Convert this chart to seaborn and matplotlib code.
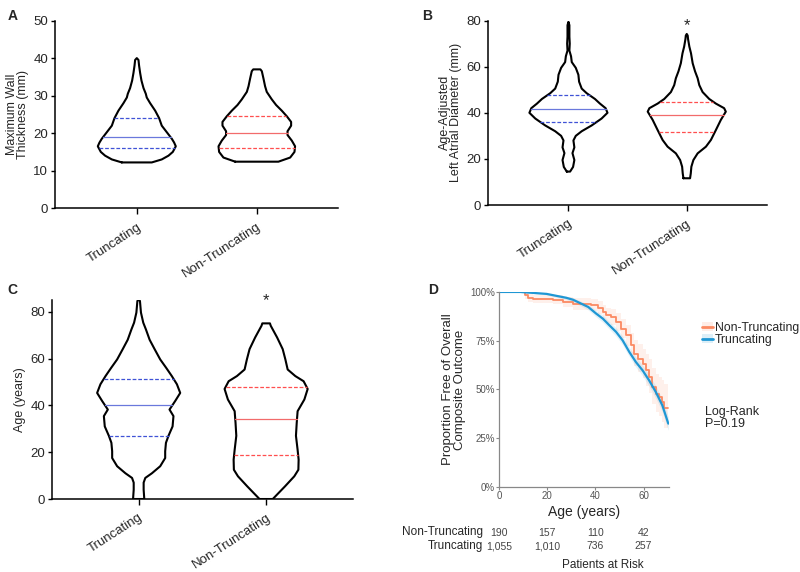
# violin panels A-C and Kaplan-Meier panel D, truncating vs non-truncating

import numpy as np
import pandas as pd
import matplotlib
matplotlib.use("Agg")
import matplotlib.pyplot as plt
from matplotlib.lines import Line2D
from matplotlib.patches import Patch
import seaborn as sns

groups = ["Truncating", "Non-Truncating"]

# violin outlines: y levels and half-widths (category units)
# panel A - maximum wall thickness (mm)
a_trunc_y = [12.2, 13, 14, 15, 16.5, 17.5, 18.5, 20, 22, 24, 26, 28, 29.5, 30.5, 32, 34, 36, 38, 39.5, 40]
a_trunc_w = [0.125, 0.208, 0.264, 0.30, 0.325, 0.311, 0.292, 0.256, 0.208, 0.186, 0.153, 0.111,
             0.083, 0.075, 0.056, 0.039, 0.028, 0.019, 0.014, 0.0]
a_non_y = [12.4, 13.5, 15, 16.5, 18, 19.5, 20.5, 22, 23, 24.5, 26, 27.5, 29, 31, 32.5, 34.5, 36.5, 37]
a_non_w = [0.18, 0.278, 0.314, 0.319, 0.292, 0.256, 0.256, 0.286, 0.286, 0.25, 0.208, 0.161,
           0.125, 0.083, 0.069, 0.056, 0.042, 0.03]
a_quart = {"Truncating": [16.0, 18.9, 24.0], "Non-Truncating": [16.0, 20.0, 24.7]}

# panel B - age-adjusted left atrial diameter (mm)
b_trunc_y = [14.5, 16.5, 19.5, 22.5, 25, 28, 30, 32, 34.5, 37.5, 40, 42, 44, 46, 48.5, 50.5, 53.5,
             56.5, 59.5, 62, 64.5, 67, 70, 73, 78, 79.5]
b_trunc_w = [0.014, 0.039, 0.05, 0.034, 0.05, 0.042, 0.062, 0.112, 0.196, 0.28, 0.33, 0.314, 0.266,
             0.224, 0.154, 0.112, 0.09, 0.084, 0.062, 0.028, 0.022, 0.008, 0.011, 0.008, 0.008, 0.0]
b_non_y = [11.6, 13.7, 16.6, 19.5, 22.4, 25.3, 28.2, 32.5, 36.9, 40.5, 42, 44, 46, 49, 52, 55, 58,
           61.5, 65.8, 68.7, 72, 73.5, 74.2]
b_non_w = [0.028, 0.034, 0.039, 0.056, 0.092, 0.162, 0.204, 0.246, 0.288, 0.33, 0.316, 0.246, 0.19,
           0.134, 0.106, 0.092, 0.07, 0.05, 0.036, 0.022, 0.011, 0.008, 0.0]
b_quart = {"Truncating": [36.2, 41.7, 47.6], "Non-Truncating": [31.5, 39.1, 44.8]}

# panel C - age (years)
c_trunc_y = [0, 4, 7, 9, 11, 14, 17.5, 20.4, 24, 27, 31, 35.4, 38.2, 41.8, 45.3, 49, 52.5, 56,
             59.6, 64, 68, 72.4, 75.3, 79.6, 84.6, 85]
c_trunc_w = [0.044, 0.039, 0.039, 0.052, 0.104, 0.169, 0.208, 0.208, 0.214, 0.234, 0.266, 0.273,
             0.242, 0.286, 0.326, 0.3, 0.26, 0.216, 0.169, 0.125, 0.086, 0.057, 0.036, 0.018, 0.01, 0.0]
c_non_y = [0, 5.4, 9.7, 12.5, 16.8, 21, 27, 32.5, 37.5, 42.5, 47, 50.3, 52.5, 55.3, 59.6, 64, 69, 74, 75]
c_non_w = [0.052, 0.148, 0.221, 0.253, 0.255, 0.247, 0.234, 0.24, 0.247, 0.3, 0.326, 0.294, 0.229,
           0.169, 0.151, 0.13, 0.086, 0.036, 0.03]
c_quart = {"Truncating": [27.1, 40.1, 51.2], "Non-Truncating": [19.0, 34.1, 47.9]}

# panel D - Kaplan-Meier (age in years, % free of outcome)
km_trunc_age = [0, 8.7, 14.2, 19.7, 23.8, 27.9, 30.7, 34.1, 37, 40.3, 43.1, 45.8, 48.6, 51.3,
                54.1, 56.8, 59.6, 62.3, 65.1, 67.8, 70.3]
km_trunc_pct = [100, 100, 99.5, 99, 98, 97, 96, 94, 92.3, 88.9, 86.3, 82.9, 79.5, 75.2, 69.2,
                64.1, 59.8, 54.7, 48.7, 41.9, 32.5]
km_trunc_lo = [100, 100, 99.2, 98.5, 97.3, 96.1, 94.9, 92.7, 90.8, 87.2, 84.4, 80.9, 77.3, 72.9,
               66.8, 61.5, 57.0, 51.7, 45.5, 38.5, 29.0]
km_trunc_hi = [100, 100, 99.8, 99.4, 98.6, 97.8, 97.0, 95.2, 93.7, 90.5, 88.1, 84.8, 81.6, 77.4,
               71.6, 66.6, 62.5, 57.6, 51.8, 45.2, 36.0]

km_non_age = [0, 10.7, 12.1, 14.2, 22.4, 26.6, 30.7, 38.3, 41, 43, 44.4, 46.5, 48.6, 50.6, 52.7,
              54.8, 56.1, 57.5, 59.6, 61, 62.3, 63.7, 65.1, 66.4, 67.8, 68.5, 70.3]
km_non_pct = [100, 98.3, 97.1, 96.6, 96.1, 94.9, 94, 93.5, 92, 89.7, 88, 87.2, 84.6, 81.2, 77.8,
              72.6, 68.4, 65.8, 63.2, 59.8, 56.4, 51.3, 47.9, 46.2, 43.6, 40.7, 40.7]
km_non_lo = [100, 96.5, 95, 94.3, 93.6, 92.1, 91, 90.3, 88.6, 86, 84, 83, 80, 76.2, 72.4, 66.6,
             62, 59, 56, 52, 48, 42.5, 38.5, 36.5, 33.5, 30, 30]
km_non_hi = [100, 99.5, 98.9, 98.6, 98.3, 97.5, 96.9, 96.5, 95.3, 93.3, 92, 91.4, 89.2, 86.3, 83.3,
             79, 75.5, 73.4, 71, 68, 65.5, 61, 58, 56.5, 55, 53, 53]

risk_years = [0, 20, 40, 60]
risk_non = ["190", "157", "110", "42"]
risk_trunc = ["1,055", "1,010", "736", "257"]

blue_dash = "#3f52d6"
blue_med = "#6a78dc"
red_dash = "#ff4f4f"
red_med = "#f26b6b"
km_orange = "#fb8a62"
km_blue = "#1f97d4"

sns.set_style("ticks")
plt.rcParams["font.family"] = ["Liberation Sans", "DejaVu Sans"]

fig = plt.figure(figsize=(8, 5.72), dpi=100)


def draw_violins(ax, profiles, quarts, ylim, yticks, ylabel):
    # draw each violin outline from its profile then the quartile lines
    for i, (ys, ws) in enumerate(profiles):
        ys = np.array(ys)
        ws = np.array(ws)
        ax.fill_betweenx(ys, i - ws, i + ws, facecolor="white", edgecolor="none", zorder=2)
        xs = np.concatenate([i - ws, (i + ws)[::-1], [i - ws[0]]])
        yy = np.concatenate([ys, ys[::-1], [ys[0]]])
        ax.plot(xs, yy, color="black", lw=1.5, zorder=3, solid_joinstyle="round")
        dash_c, med_c = (blue_dash, blue_med) if i == 0 else (red_dash, red_med)
        q1, med, q3 = quarts[groups[i]]
        for q, style, c in [(q1, (0, (3, 1.5)), dash_c), (med, "-", med_c), (q3, (0, (3, 1.5)), dash_c)]:
            hw = np.interp(q, ys, ws)
            ax.plot([i - hw, i + hw], [q, q], color=c, lw=0.9, linestyle=style, zorder=4)

    ax.set_xlim(-0.68, 1.68)
    ax.set_ylim(*ylim)
    ax.set_yticks(yticks)
    ax.set_xticks([0, 1])
    ax.set_xticklabels(groups, rotation=33, ha="right", rotation_mode="anchor", fontsize=9.5)
    ax.tick_params(axis="y", labelsize=9.5, length=3, width=1, color="black", pad=2)
    ax.tick_params(axis="x", length=4, width=1, color="black", pad=5)
    ax.set_ylabel(ylabel, fontsize=9, labelpad=3, linespacing=0.95)
    for s in ["left", "bottom"]:
        ax.spines[s].set_linewidth(1.1)
        ax.spines[s].set_color("black")
    sns.despine(ax=ax)


# panel A
axA = fig.add_axes([0.069, 0.636, 0.354, 0.328])
draw_violins(axA, [(a_trunc_y, a_trunc_w), (a_non_y, a_non_w)], a_quart,
             (0, 50), [0, 10, 20, 30, 40, 50], "Maximum Wall\nThickness (mm)")

# panel B
axB = fig.add_axes([0.61, 0.6416, 0.349, 0.3224])
draw_violins(axB, [(b_trunc_y, b_trunc_w), (b_non_y, b_non_w)], b_quart,
             (0, 80), [0, 20, 40, 60, 80], "Age-Adjusted\nLeft Atrial Diameter (mm)")
axB.text(1, 76, "*", ha="center", va="baseline", fontsize=12, clip_on=False)

# panel C
axC = fig.add_axes([0.065, 0.1276, 0.376, 0.348])
draw_violins(axC, [(c_trunc_y, c_trunc_w), (c_non_y, c_non_w)], c_quart,
             (0, 85), [0, 20, 40, 60, 80], "Age (years)")
axC.text(1, 83, "*", ha="center", va="baseline", fontsize=12, clip_on=False)

# panel D - survival curves
axD = fig.add_axes([0.624, 0.1486, 0.212, 0.341])
df_non = pd.DataFrame({"age": km_non_age, "pct": np.array(km_non_pct) / 100})
df_trunc = pd.DataFrame({"age": km_trunc_age, "pct": np.array(km_trunc_pct) / 100})

axD.fill_between(km_non_age, np.array(km_non_lo) / 100, np.array(km_non_hi) / 100,
                 step="post", color=km_orange, alpha=0.12, lw=0)
axD.fill_between(km_trunc_age, np.array(km_trunc_lo) / 100, np.array(km_trunc_hi) / 100,
                 color=km_blue, alpha=0.12, lw=0)
sns.lineplot(data=df_non, x="age", y="pct", ax=axD, color=km_orange, lw=1.3,
             drawstyle="steps-post", estimator=None)
sns.lineplot(data=df_trunc, x="age", y="pct", ax=axD, color=km_blue, lw=1.6, estimator=None)

axD.set_xlim(0, 70.5)
axD.set_ylim(0, 1)
axD.set_xticks([0, 20, 40, 60])
axD.set_yticks([0, 0.25, 0.5, 0.75, 1.0])
axD.set_yticklabels(["0%", "25%", "50%", "75%", "100%"])
axD.tick_params(labelsize=7, labelcolor="#555555", color="#888888", length=2, width=0.8, pad=1)
axD.set_xlabel("Age (years)", fontsize=10, labelpad=3)
axD.set_ylabel("Proportion Free of Overall\nComposite Outcome", fontsize=9.5, labelpad=3,
               linespacing=0.95)
for s in ["left", "bottom"]:
    axD.spines[s].set_color("#888888")
    axD.spines[s].set_linewidth(0.9)
sns.despine(ax=axD)

# legend with shaded band behind each line
h_non = (Patch(facecolor=km_orange, alpha=0.15, lw=0), Line2D([], [], color=km_orange, lw=2))
h_trunc = (Patch(facecolor=km_blue, alpha=0.15, lw=0), Line2D([], [], color=km_blue, lw=2))
fig.legend([h_non, h_trunc], ["Non-Truncating", "Truncating"], loc="upper left",
           bbox_to_anchor=(0.877, 0.437), frameon=False, fontsize=8.8, handlelength=0.9,
           handletextpad=0.2, labelspacing=0.0, borderaxespad=0, borderpad=0)

fig.text(0.881, 0.269, "Log-Rank\nP=0.19", fontsize=9, va="center", ha="left", linespacing=0.95)

# patients at risk table
for yr, n1, n2 in zip(risk_years, risk_non, risk_trunc):
    axD.text(yr, -0.235, n1, transform=axD.get_xaxis_transform(), ha="center", va="center",
             fontsize=7.5, color="#444444")
    axD.text(yr, -0.305, n2, transform=axD.get_xaxis_transform(), ha="center", va="center",
             fontsize=7.5, color="#444444")
fig.text(0.604, 1 - 532 / 572, "Non-Truncating", ha="right", va="center", fontsize=8.5)
fig.text(0.604, 1 - 546 / 572, "Truncating", ha="right", va="center", fontsize=8.5)
fig.text(0.754, 1 - 565 / 572, "Patients at Risk", ha="center", va="center", fontsize=8.5)

# panel letters
for lab, x, y in [("A", 0.009, 0.985), ("B", 0.528, 0.985), ("C", 0.009, 0.505), ("D", 0.535, 0.505)]:
    fig.text(x, y, lab, fontsize=10, fontweight="bold", ha="left", va="top")

plt.savefig("out.png", dpi=100)
plt.close()
